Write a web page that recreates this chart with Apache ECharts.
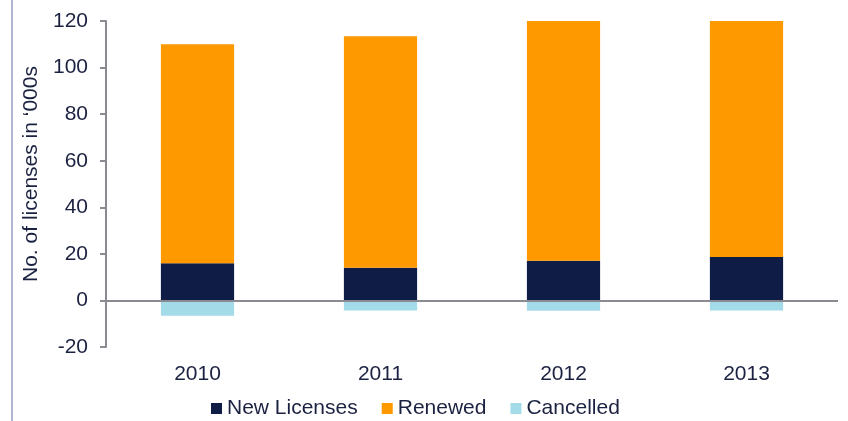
<!DOCTYPE html>
<html style="height: 100%">
<head>
<meta charset="utf-8">
<script type="text/javascript" src="https://cdn.jsdelivr.net/npm/echarts@6/dist/echarts.min.js"></script>
<style type="text/css">
    body { margin: 0; height: 100%; background: #ffffff; }
    #container { width: 848px; height: 421px; }
</style>
</head>
<body>
<div id="container"></div>
<script type="text/javascript">
    var years = ['2010', '2011', '2012', '2013'];
    var newLicenses = [16, 14, 17, 18.7];
    var renewed = [94, 99.5, 103, 101.3];
    var cancelled = [-6.6, -4.3, -4.4, -4.3];
    var yTicks = { min: -20, max: 120, step: 20 };

    var textColor = '#1b2140';
    var axisGray = '#8a8a92';
    var fontSize = 21;

    var myChart = echarts.init(document.getElementById('container'));

    function barSeries(name, data, color) {
        return {
            name: name,
            type: 'bar',
            stack: 'total',
            barWidth: '40%',
            data: data,
            itemStyle: { color: color },
            emphasis: { disabled: true }
        };
    }

    var cancelledSeries = barSeries('Cancelled', cancelled, '#a4dbe8');
    // zero line across the plot
    cancelledSeries.markLine = {
        silent: true,
        symbol: 'none',
        label: { show: false },
        lineStyle: { color: axisGray, width: 2, type: 'solid' },
        data: [{ yAxis: 0 }]
    };

    var option = {
        animation: false,
        textStyle: { fontFamily: 'Liberation Sans, Arial, sans-serif' },
        grid: { left: 106, right: 10, top: 21, bottom: 74, containLabel: false },
        legend: {
            top: 398,
            left: 211,
            padding: 0,
            itemWidth: 11,
            itemHeight: 11,
            itemGap: 24,
            icon: 'rect',
            textStyle: { color: textColor, fontSize: fontSize, fontFamily: 'Liberation Sans, Arial, sans-serif' },
            data: ['New Licenses', 'Renewed', 'Cancelled']
        },
        xAxis: {
            type: 'category',
            data: years,
            axisLine: { show: false, onZero: false },
            axisTick: { show: false },
            axisLabel: { color: textColor, fontSize: fontSize, margin: 17 }
        },
        yAxis: {
            type: 'value',
            min: yTicks.min,
            max: yTicks.max,
            interval: yTicks.step,
            name: 'No. of licenses in \u2018000s',
            nameLocation: 'middle',
            nameGap: 62,
            nameTextStyle: { color: textColor, fontSize: fontSize, padding: [0, 0, 0, 20] },
            axisLine: { show: true, lineStyle: { color: axisGray, width: 2 } },
            axisTick: { show: true, length: 6, lineStyle: { color: axisGray, width: 2 } },
            axisLabel: { color: textColor, fontSize: fontSize, margin: 18 },
            splitLine: { show: false }
        },
        graphic: [{
            type: 'line',
            shape: { x1: 12, y1: 0, x2: 12, y2: 421 },
            style: { stroke: '#b1b5d3', lineWidth: 2 },
            silent: true
        }],
        series: [
            barSeries('New Licenses', newLicenses, '#0f1c45'),
            barSeries('Renewed', renewed, '#ff9900'),
            cancelledSeries
        ]
    };
    myChart.setOption(option);
</script>
</body>
</html>
